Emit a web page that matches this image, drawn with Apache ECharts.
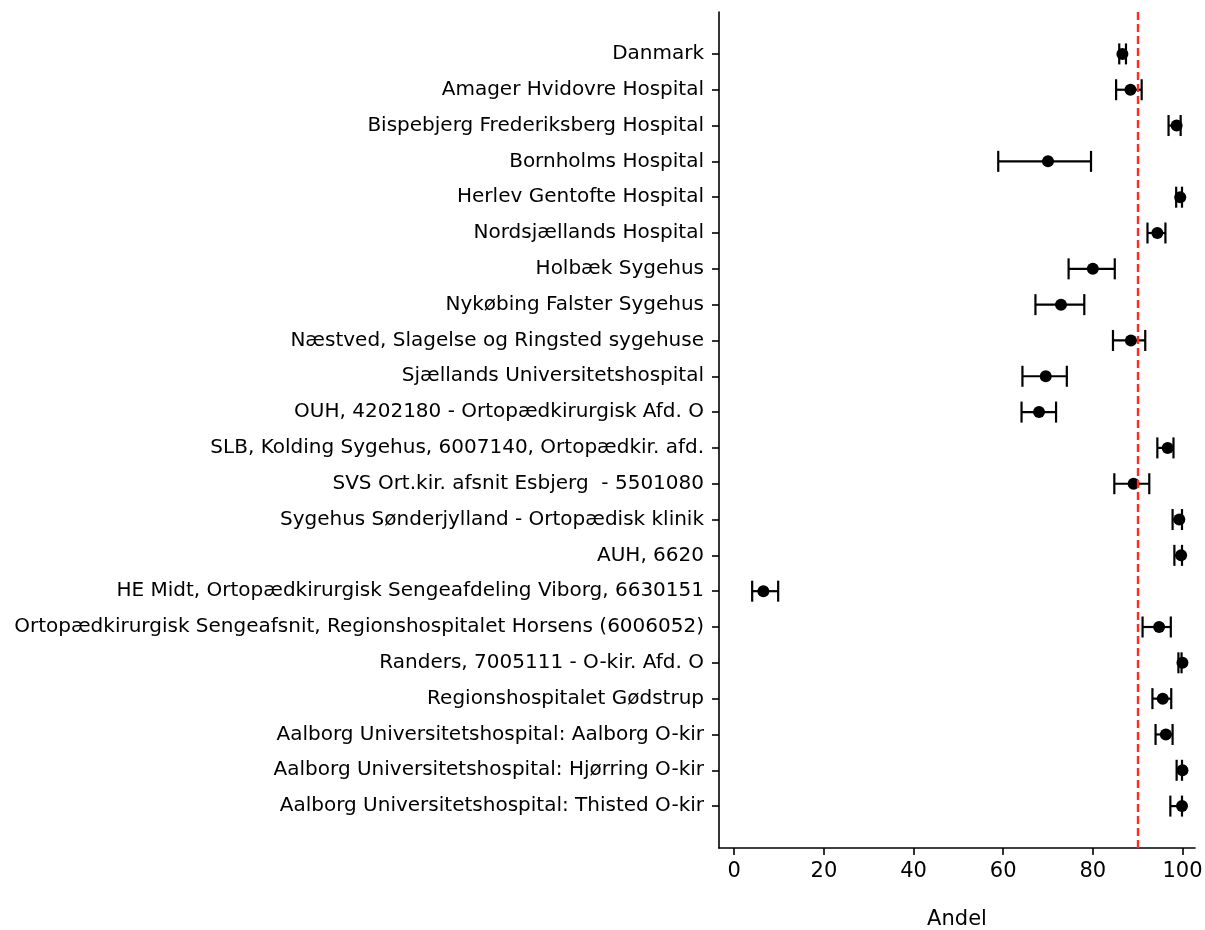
<!DOCTYPE html>
<html>
<head>
<meta charset="utf-8">
<script src="https://cdn.jsdelivr.net/npm/echarts@6/dist/echarts.min.js"></script>
<style>html,body{margin:0;padding:0;background:#fff}#c{width:1205px;height:930px}</style>
</head>
<body>
<div id="c"></div>
<script>
const categories = [
  "Danmark",
  "Amager Hvidovre Hospital",
  "Bispebjerg Frederiksberg Hospital",
  "Bornholms Hospital",
  "Herlev Gentofte Hospital",
  "Nordsjællands Hospital",
  "Holbæk Sygehus",
  "Nykøbing Falster Sygehus",
  "Næstved, Slagelse og Ringsted sygehuse",
  "Sjællands Universitetshospital",
  "OUH, 4202180 - Ortopædkirurgisk Afd. O",
  "SLB, Kolding Sygehus, 6007140, Ortopædkir. afd.",
  "SVS Ort.kir. afsnit Esbjerg  - 5501080",
  "Sygehus Sønderjylland - Ortopædisk klinik",
  "AUH, 6620",
  "HE Midt, Ortopædkirurgisk Sengeafdeling Viborg, 6630151",
  "Ortopædkirurgisk Sengeafsnit, Regionshospitalet Horsens (6006052)",
  "Randers, 7005111 - O-kir. Afd. O",
  "Regionshospitalet Gødstrup",
  "Aalborg Universitetshospital: Aalborg O-kir",
  "Aalborg Universitetshospital: Hjørring O-kir",
  "Aalborg Universitetshospital: Thisted O-kir"
];
const estimate = [86.6, 88.4, 98.7, 70.0, 99.5, 94.4, 80.0, 72.9, 88.5, 69.5, 68.0, 96.7, 89.1, 99.3, 99.7, 6.5, 94.8, 100.0, 95.6, 96.3, 100.0, 99.9];
const lower    = [85.9, 85.2, 96.9, 58.9, 98.6, 92.2, 74.6, 67.2, 84.5, 64.3, 64.1, 94.4, 84.8, 97.8, 98.2, 4.0, 91.1, 99.1, 93.3, 94.0, 98.7, 97.3];
const upper    = [87.4, 90.9, 99.6, 79.6, 99.9, 96.2, 84.9, 78.1, 91.7, 74.2, 71.8, 98.0, 92.6, 99.9, 99.9, 9.8, 97.4, 99.8, 97.5, 97.8, 99.9, 99.9];
const target = 90;
const xTicks = [0, 20, 40, 60, 80, 100];
const xLabel = "Andel";

const idx = categories.map((_, i) => i);
const errData = idx.map(i => [lower[i], upper[i], i]);
const ptData = idx.map(i => [estimate[i], i]);

const chart = echarts.init(document.getElementById('c'), null, {renderer: 'canvas'});
const font = 'DejaVu Sans';
chart.setOption({
  animation: false,
  backgroundColor: '#fff',
  grid: {left: 719, right: 10, top: 12, bottom: 82, containLabel: false, outerBoundsMode: 'none'},
  xAxis: {
    type: 'value', min: -3.4, max: 102.8,
    splitLine: {show: false},
    axisLine: {show: true, onZero: false, lineStyle: {color: '#000', width: 1.6}},
    axisTick: {show: true, length: 7, lineStyle: {color: '#000', width: 1.6}, customValues: xTicks},
    axisLabel: {customValues: xTicks, color: '#000', fontFamily: font, fontSize: 21, margin: 13},
    name: xLabel, nameLocation: 'middle', nameGap: 61,
    nameTextStyle: {color: '#000', fontFamily: font, fontSize: 21}
  },
  yAxis: {
    type: 'value', inverse: true, min: -1.17, max: 22.17,
    splitLine: {show: false},
    axisLine: {show: true, onZero: false, lineStyle: {color: '#000', width: 1.6}},
    axisTick: {show: true, length: 7, lineStyle: {color: '#000', width: 1.6}, customValues: idx},
    axisLabel: {customValues: idx, color: '#000', fontFamily: font, fontSize: 20, margin: 15,
      formatter: v => categories[Math.round(v)] || ''}
  },
  series: [
    {
      type: 'custom',
      data: errData,
      encode: {x: [0, 1], y: 2},
      renderItem: function (params, api) {
        const y = api.value(2);
        const a = api.coord([api.value(0), y]);
        const b = api.coord([api.value(1), y]);
        const h = 10.5;
        const st = {stroke: '#000', lineWidth: 2.2, fill: null};
        return {type: 'group', children: [
          {type: 'line', shape: {x1: a[0], y1: a[1], x2: b[0], y2: b[1]}, style: st},
          {type: 'line', shape: {x1: a[0], y1: a[1] - h, x2: a[0], y2: a[1] + h}, style: st},
          {type: 'line', shape: {x1: b[0], y1: b[1] - h, x2: b[0], y2: b[1] + h}, style: st}
        ]};
      },
      z: 2
    },
    {
      type: 'scatter',
      data: ptData,
      symbol: 'circle', symbolSize: 12,
      itemStyle: {color: '#000', opacity: 1},
      z: 3,
      markLine: {
        silent: true, symbol: 'none',
        label: {show: false},
        lineStyle: {color: '#ff2a2a', type: [8, 4], width: 2.4, opacity: 1},
        data: [{xAxis: target}]
      }
    }
  ]
});
</script>
</body>
</html>
